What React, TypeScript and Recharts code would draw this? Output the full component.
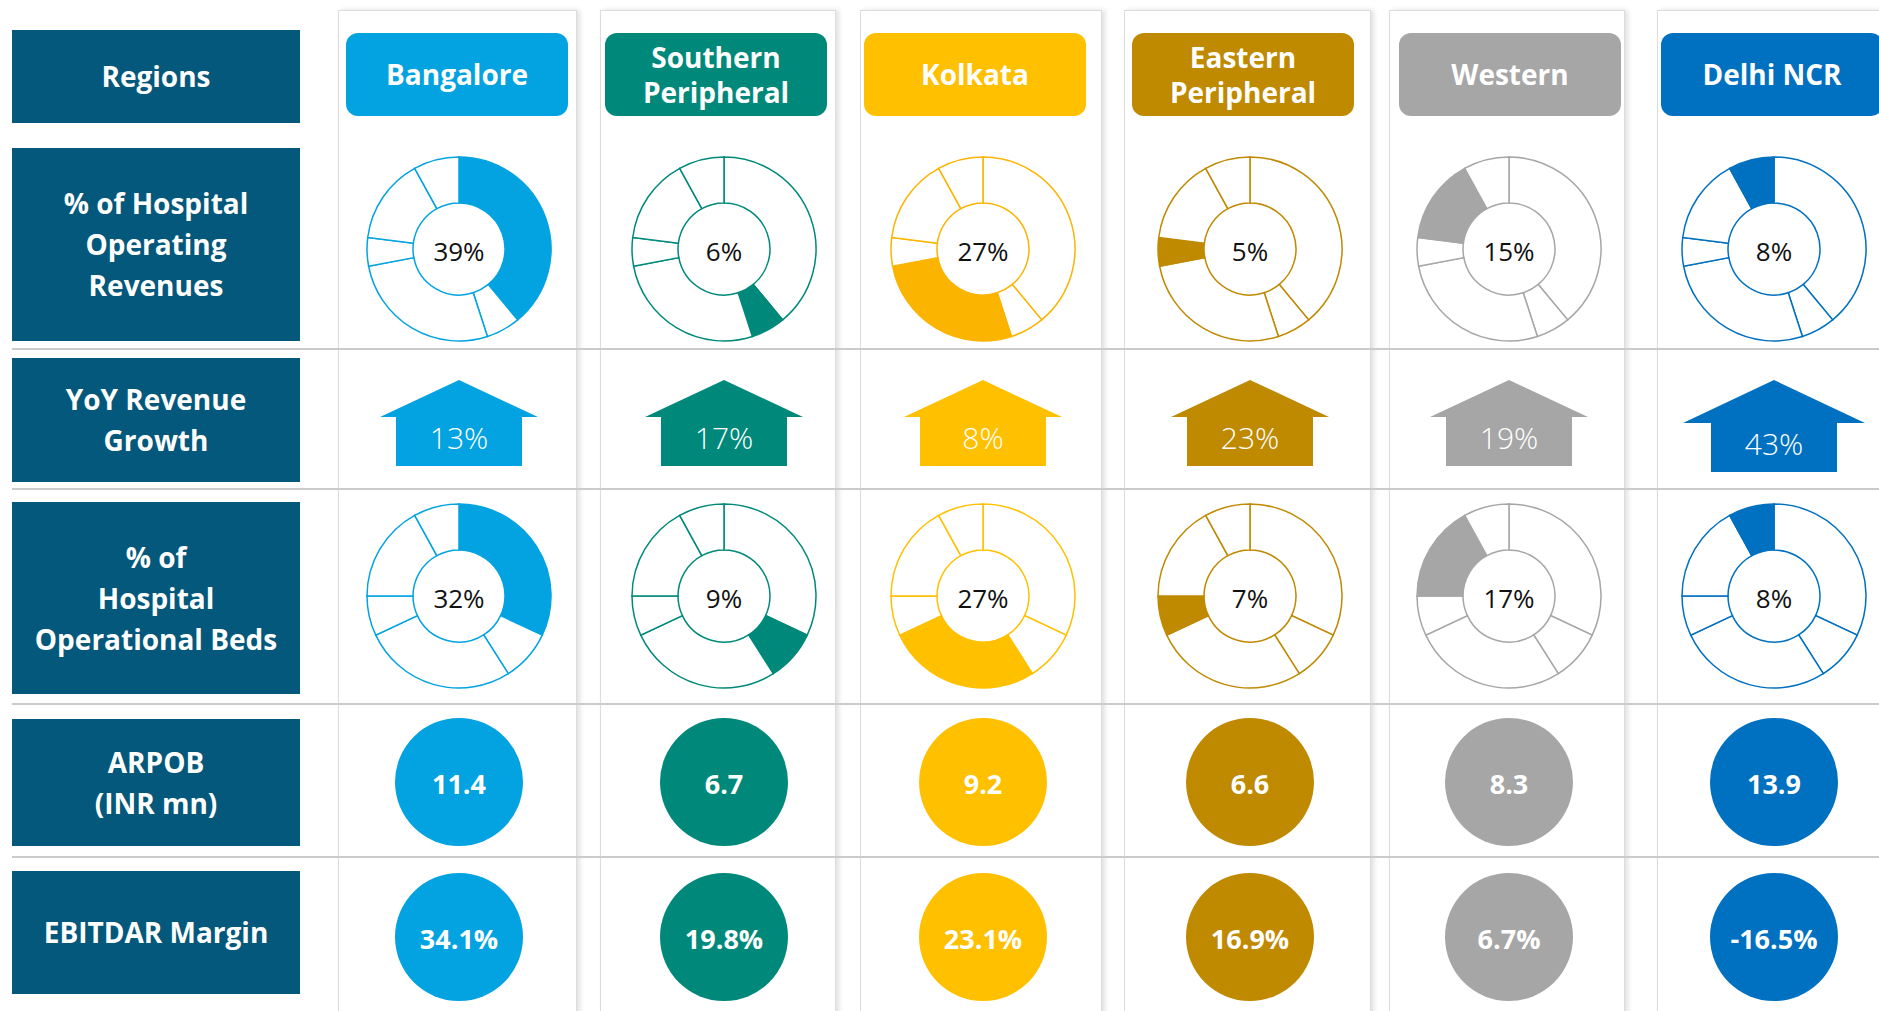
import React from "react";
import { PieChart, Pie, Cell, Label, ScatterChart, Scatter, XAxis, YAxis } from "recharts";

const regions = ["Bangalore", "Southern Peripheral", "Kolkata", "Eastern Peripheral", "Western", "Delhi NCR"];
const revenueShare = [39, 6, 27, 5, 15, 8];
const yoyGrowth = [13, 17, 8, 23, 19, 43];
const bedsShare = [32, 9, 27, 7, 17, 8];
const arpob = [11.4, 6.7, 9.2, 6.6, 8.3, 13.9];
const ebitdarMargin = [34.1, 19.8, 23.1, 16.9, 6.7, -16.5];
const rowLabels = [
  "Regions",
  "% of Hospital\nOperating\nRevenues",
  "YoY Revenue\nGrowth",
  "% of\nHospital\nOperational Beds",
  "ARPOB\n(INR mn)",
  "EBITDAR Margin",
];

// look & layout
const colors = ["#03A3E1", "#00897A", "#FFC000", "#BF8900", "#A6A6A6", "#0070C0"];
const revenueColors = ["#03A3E1", "#00897A", "#FBB400", "#BF8900", "#A6A6A6", "#0070C0"];
const cardLeft = [338, 600, 860, 1124, 1389, 1657];
const cardWidth = [239, 236, 242, 247, 236, 240];
const pillLeft = [346, 605, 864, 1132, 1399, 1661];
const centerX = [459, 724, 983, 1250, 1509, 1774];
const arrowHalfHead = [79, 79, 79, 79, 79, 91];
const arrowHeadH = [37, 37, 37, 37, 37, 43];
const labelBoxes = [
  { top: 30, height: 93 },
  { top: 148, height: 193 },
  { top: 358, height: 124 },
  { top: 502, height: 192 },
  { top: 719, height: 127 },
  { top: 871, height: 123 },
];
const separators = [349, 489, 704, 857];
const FONT = "'Segoe UI', 'Open Sans', sans-serif";

function Donut({ values, col, color, cy }: { values: number[]; col: number; color: string; cy: number }) {
  const data = regions.map((r, i) => ({ name: r, value: values[i] }));
  const size = 200;
  return (
    <div style={{ position: "absolute", left: centerX[col] - size / 2, top: cy - size / 2, width: size, height: size }}>
      <PieChart width={size} height={size} margin={{ top: 0, right: 0, bottom: 0, left: 0 }}>
        <Pie
          data={data}
          dataKey="value"
          nameKey="name"
          startAngle={90}
          endAngle={-270}
          innerRadius={46}
          outerRadius={92}
          stroke={color}
          strokeWidth={1.5}
          isAnimationActive={false}
        >
          {data.map((d, i) => (
            <Cell key={d.name} fill={i === col ? color : "#ffffff"} stroke={color} />
          ))}
          <Label value={`${values[col]}%`} position="center" dy={3} fill="#111" fontSize={26} fontFamily={FONT} />
        </Pie>
      </PieChart>
    </div>
  );
}

function Arrow({ col }: { col: number }) {
  const data = [{ region: regions[col], row: "YoY", value: yoyGrowth[col] }];
  const w = 220;
  const h = 120;
  const shape = (p: any) => {
    const { cx, cy } = p;
    const hh = arrowHalfHead[col];
    const hb = 63;
    const headH = arrowHeadH[col];
    const bodyH = 49;
    const top = cy - (37 + bodyH) / 2;
    const base = top + headH;
    const bottom = base + bodyH;
    const pts = [
      [cx, top],
      [cx + hh, base],
      [cx + hb, base],
      [cx + hb, bottom],
      [cx - hb, bottom],
      [cx - hb, base],
      [cx - hh, base],
    ]
      .map((q) => q.join(","))
      .join(" ");
    return (
      <g>
        <polygon points={pts} fill={colors[col]} />
        <text
          x={cx}
          y={base + bodyH / 2 - 4}
          textAnchor="middle"
          dominantBaseline="central"
          fill="#fff"
          fontSize={30}
          fontWeight={300}
          fontFamily={FONT}
        >
          {p.payload.value}%
        </text>
      </g>
    );
  };
  return (
    <div style={{ position: "absolute", left: centerX[col] - w / 2, top: 423 - h / 2, width: w, height: h }}>
      <ScatterChart width={w} height={h} margin={{ top: 0, right: 0, bottom: 0, left: 0 }}>
        <XAxis type="category" dataKey="region" hide />
        <YAxis type="category" dataKey="row" hide />
        <Scatter data={data} shape={shape} isAnimationActive={false} />
      </ScatterChart>
    </div>
  );
}

function Bubble({ col, value, suffix, row, cy }: { col: number; value: number; suffix: string; row: string; cy: number }) {
  const data = [{ region: regions[col], row, value }];
  const size = 150;
  const shape = (p: any) => (
    <g>
      <circle cx={p.cx} cy={p.cy} r={64} fill={colors[col]} />
      <text
        x={p.cx}
        y={p.cy + 1}
        textAnchor="middle"
        dominantBaseline="central"
        fill="#fff"
        fontSize={27}
        fontWeight={700}
        fontFamily={FONT}
      >
        {p.payload.value.toFixed(1)}
        {suffix}
      </text>
    </g>
  );
  return (
    <div style={{ position: "absolute", left: centerX[col] - size / 2, top: cy - size / 2, width: size, height: size }}>
      <ScatterChart width={size} height={size} margin={{ top: 0, right: 0, bottom: 0, left: 0 }}>
        <XAxis type="category" dataKey="region" hide />
        <YAxis type="category" dataKey="row" hide />
        <Scatter data={data} shape={shape} isAnimationActive={false} />
      </ScatterChart>
    </div>
  );
}

export default function App() {
  return (
    <div
      style={{
        position: "absolute",
        left: 0,
        top: 0,
        width: 1879,
        height: 1011,
        overflow: "hidden",
        background: "#ffffff",
        fontFamily: FONT,
      }}
    >
      {regions.map((r, i) => (
        <div
          key={`card-${r}`}
          style={{
            position: "absolute",
            left: cardLeft[i],
            top: 10,
            width: cardWidth[i],
            height: 1020,
            background: "#fff",
            border: "1px solid #DCDCDC",
            boxShadow: "3px 0 5px rgba(0,0,0,0.12)",
            boxSizing: "border-box",
          }}
        />
      ))}

      {separators.map((y) => (
        <div
          key={`sep-${y}`}
          style={{ position: "absolute", left: 12, top: y - 1, width: 1867, height: 2, background: "#CBCBCB", zIndex: 2 }}
        />
      ))}

      {rowLabels.map((t, i) => (
        <div
          key={`lab-${i}`}
          style={{
            position: "absolute",
            left: 12,
            top: labelBoxes[i].top,
            width: 288,
            height: labelBoxes[i].height,
            background: "#03587B",
            color: "#fff",
            fontWeight: 700,
            fontSize: 28,
            lineHeight: "41px",
            display: "flex",
            alignItems: "center",
            justifyContent: "center",
            textAlign: "center",
            whiteSpace: "pre-line",
            zIndex: 3,
          }}
        >
          {t}
        </div>
      ))}

      {regions.map((r, i) => (
        <div
          key={`pill-${r}`}
          style={{
            position: "absolute",
            left: pillLeft[i],
            top: 33,
            width: 222,
            height: 83,
            borderRadius: 12,
            background: colors[i],
            color: "#fff",
            fontWeight: 700,
            fontSize: 28,
            lineHeight: "35px",
            display: "flex",
            alignItems: "center",
            justifyContent: "center",
            textAlign: "center",
            zIndex: 3,
          }}
        >
          {r}
        </div>
      ))}

      {regions.map((r, i) => (
        <React.Fragment key={`col-${r}`}>
          <Donut values={revenueShare} col={i} color={revenueColors[i]} cy={249} />
          <Arrow col={i} />
          <Donut values={bedsShare} col={i} color={colors[i]} cy={596} />
          <Bubble col={i} value={arpob[i]} suffix="" row="ARPOB" cy={782} />
          <Bubble col={i} value={ebitdarMargin[i]} suffix="%" row="EBITDAR" cy={937} />
        </React.Fragment>
      ))}
    </div>
  );
}
